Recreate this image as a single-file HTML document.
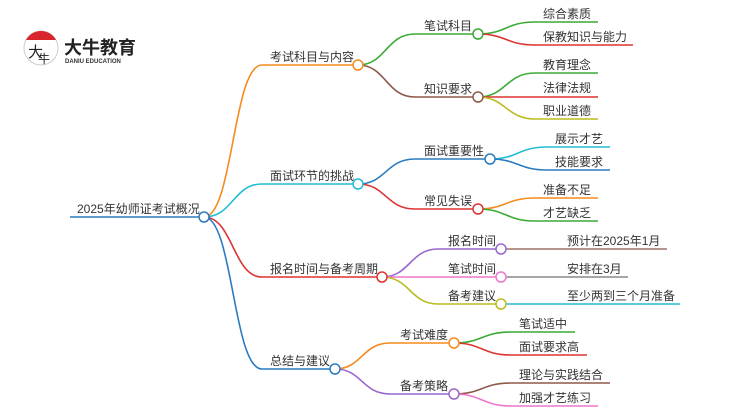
<!DOCTYPE html>
<html><head><meta charset="utf-8"><style>
body{margin:0;background:#fff}
svg{display:block}
text{font-family:"Liberation Sans","Noto Sans CJK SC",sans-serif;font-size:12px;fill:#333}
</style></head><body>
<svg width="750" height="410" viewBox="0 0 750 410" xmlns="http://www.w3.org/2000/svg">
<g fill="none" stroke-width="1.6">
<path d="M70 217 H199" stroke="#2b7bc0"/>
<path d="M204 217 C233 217 233 65 262 65 H353" stroke="#f58a1f"/>
<path d="M204 217 C233 217 233 184 262 184 H353" stroke="#22bcd4"/>
<path d="M204 217 C233 217 233 277 262 277 H377" stroke="#dd3333"/>
<path d="M204 217 C233 217 233 369 262 369 H330" stroke="#2b7bc0"/>
<path d="M358 65 C386 65 386 34 415 34 H473" stroke="#3aaa35"/>
<path d="M358 65 C386 65 386 97 415 97 H473" stroke="#8d5a4a"/>
<path d="M358 184 C386 184 386 159 415 159 H485" stroke="#2b7bc0"/>
<path d="M358 184 C386 184 386 209 415 209 H473" stroke="#dd3333"/>
<path d="M382 277 C410 277 410 249 438 249 H496" stroke="#9966cc"/>
<path d="M382 277 H496" stroke="#ee77cc"/>
<path d="M382 277 C410 277 410 304 438 304 H496" stroke="#bbbb22"/>
<path d="M335 369 C362 369 362 343 390 343 H449" stroke="#f58a1f"/>
<path d="M335 369 C362 369 362 394 390 394 H449" stroke="#9966cc"/>
<path d="M478 34 C506 34 506 22 535 22 H598" stroke="#3aaa35"/>
<path d="M478 34 C506 34 506 45 535 45 H633" stroke="#dd3333"/>
<path d="M478 97 C506 97 506 73 535 73 H598" stroke="#3aaa35"/>
<path d="M478 97 H598" stroke="#dd3333"/>
<path d="M478 97 C506 97 506 119 535 119 H598" stroke="#bbbb22"/>
<path d="M490 159 C518 159 518 147 547 147 H610" stroke="#22bcd4"/>
<path d="M490 159 C518 159 518 170 547 170 H610" stroke="#2b7bc0"/>
<path d="M478 209 C506 209 506 198 535 198 H598" stroke="#f58a1f"/>
<path d="M478 209 C506 209 506 221 535 221 H598" stroke="#3aaa35"/>
<path d="M506 249 H667" stroke="#9b7468"/>
<path d="M506 277 H628" stroke="#888"/>
<path d="M506 304 H680" stroke="#22bcd4"/>
<path d="M454 343 C482 343 482 332 511 332 H575" stroke="#3aaa35"/>
<path d="M454 343 C482 343 482 355 511 355 H587" stroke="#dd3333"/>
<path d="M454 394 C482 394 482 383 511 383 H610" stroke="#8d5a4a"/>
<path d="M454 394 C482 394 482 406 511 406 H598" stroke="#ee77cc"/>
<g fill="#fff" stroke-width="1.5">
<circle cx="204" cy="217" r="5" stroke="#2b7bc0"/>
<circle cx="358" cy="65" r="5" stroke="#f58a1f"/>
<circle cx="358" cy="184" r="5" stroke="#22bcd4"/>
<circle cx="382" cy="277" r="5" stroke="#dd3333"/>
<circle cx="335" cy="369" r="5" stroke="#2b7bc0"/>
<circle cx="478" cy="34" r="5" stroke="#3aaa35"/>
<circle cx="478" cy="97" r="5" stroke="#8d5a4a"/>
<circle cx="490" cy="159" r="5" stroke="#2b7bc0"/>
<circle cx="478" cy="209" r="5" stroke="#dd3333"/>
<circle cx="501" cy="249" r="5" stroke="#9966cc"/>
<circle cx="501" cy="277" r="5" stroke="#ee77cc"/>
<circle cx="501" cy="304" r="5" stroke="#bbbb22"/>
<circle cx="454" cy="343" r="5" stroke="#f58a1f"/>
<circle cx="454" cy="394" r="5" stroke="#9966cc"/>
</g>
</g>
<text x="77" y="213">2025年幼师证考试概况</text>
<text x="270" y="61">考试科目与内容</text>
<text x="270" y="180">面试环节的挑战</text>
<text x="270" y="273">报名时间与备考周期</text>
<text x="270" y="365">总结与建议</text>
<text x="424" y="30">笔试科目</text>
<text x="424" y="93">知识要求</text>
<text x="424" y="155">面试重要性</text>
<text x="424" y="205">常见失误</text>
<text x="448" y="245">报名时间</text>
<text x="448" y="273">笔试时间</text>
<text x="448" y="300">备考建议</text>
<text x="400" y="339">考试难度</text>
<text x="400" y="390">备考策略</text>
<text x="543" y="18">综合素质</text>
<text x="543" y="41">保教知识与能力</text>
<text x="543" y="69">教育理念</text>
<text x="543" y="92">法律法规</text>
<text x="543" y="115">职业道德</text>
<text x="555" y="143">展示才艺</text>
<text x="555" y="166">技能要求</text>
<text x="543" y="194">准备不足</text>
<text x="543" y="217">才艺缺乏</text>
<text x="567" y="245">预计在2025年1月</text>
<text x="567" y="273">安排在3月</text>
<text x="567" y="300">至少两到三个月准备</text>
<text x="519" y="328">笔试适中</text>
<text x="519" y="351">面试要求高</text>
<text x="519" y="379">理论与实践结合</text>
<text x="519" y="402">加强才艺练习</text>
<circle cx="41" cy="48" r="17" fill="#fff" stroke="#ccc" stroke-width="1"/>
<path d="M26 40 A17 17 0 0 1 56 40 Z" fill="#d9262c"/>
<text x="28" y="57" style="font-size:15px;fill:#222">大</text>
<text x="38" y="63" style="font-size:12px;fill:#222">牛</text>
<text x="64" y="54" style="font-size:18px;font-weight:bold;fill:#222">大牛教育</text>
<text x="65" y="63" style="font-size:6px;font-weight:bold;fill:#333">DANIU EDUCATION</text>
</svg>
</body></html>
